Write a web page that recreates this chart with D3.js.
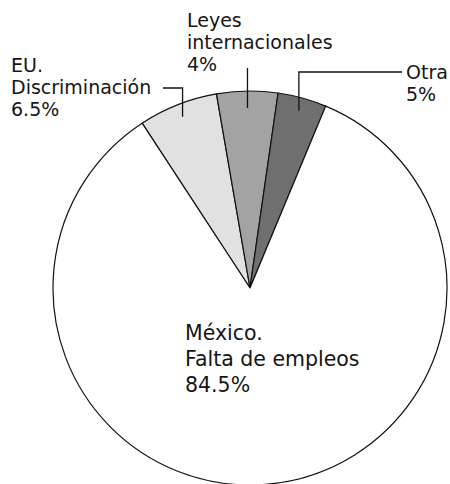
<!DOCTYPE html>
<html>
<head>
<meta charset="utf-8">
<script src="https://cdn.jsdelivr.net/npm/d3@7"></script>
<style>
  html, body { margin: 0; padding: 0; background: #fff; }
  svg { display: block; }
  text { font-family: "DejaVu Sans", "Open Sans", sans-serif; fill: #151515; }
</style>
</head>
<body>
<svg id="chart" width="450" height="484"></svg>
<script>
// Categories (clockwise from the left edge of the light wedge)
const categories = ["EU. Discriminación", "Leyes internacionales", "Otra", "México. Falta de empleos"];
// Wedge sizes as drawn in the picture (percent of circle)
const shares = [6.5, 5, 4, 84.5];
// Percent labels as printed on the chart
const percentLabels = ["6.5%", "4%", "5%", "84.5%"];
// Label lines
const labelLines = [["EU.", "Discriminación", "6.5%"], ["Leyes", "internacionales", "4%"], ["Otra", "5%"], ["México.", "Falta de empleos", "84.5%"]];
const fills = ["#e1e1e1", "#a3a3a3", "#6f6f6f", "#ffffff"];

const svg = d3.select("#chart");
const cx = 250, cy = 288, R = 197;
const startDeg = -33.2;
const toRad = d => d * Math.PI / 180;

const pie = d3.pie().sort(null).value(d => d)
  .startAngle(toRad(startDeg)).endAngle(toRad(startDeg) + 2 * Math.PI);
const arcs = pie(shares);
const arc = d3.arc().innerRadius(0).outerRadius(R);

const g = svg.append("g").attr("transform", `translate(${cx},${cy})`);
g.selectAll("path").data(arcs).join("path")
  .attr("d", arc)
  .attr("fill", (d, i) => fills[i])
  .attr("stroke", "#111")
  .attr("stroke-width", 1.2)
  .attr("stroke-linejoin", "round");

// leader anchors at mid-angle of each small wedge
const anchorR = [184, 180, 184];
function anchor(i) {
  const a = (arcs[i].startAngle + arcs[i].endAngle) / 2;
  return [cx + anchorR[i] * Math.sin(a), cy - anchorR[i] * Math.cos(a)];
}
const lineStyle = sel => sel.attr("fill", "none").attr("stroke", "#111").attr("stroke-width", 1.3);

// EU leader
{
  const [x, y] = anchor(0);
  svg.append("path").call(lineStyle).attr("d", `M${x},${y}V88H163`);
}
// Leyes leader
{
  const [x, y] = anchor(1);
  svg.append("path").call(lineStyle).attr("d", `M${x},${y}V68`);
}
// Otra leader
{
  const [x, y] = anchor(2);
  svg.append("path").call(lineStyle).attr("d", `M${x},${y}V72H402`);
}

function block(lines, x, y0, lh, fs) {
  const t = svg.append("text").attr("x", x).attr("y", y0).attr("font-size", fs);
  lines.forEach((s, i) => t.append("tspan").attr("x", x).attr("y", y0 + i * lh).text(s));
}
block(labelLines[0], 11, 72, 22, 19);
block(labelLines[1], 187, 27, 22, 19);
block(labelLines[2], 406, 79, 22, 19);
block(labelLines[3], 185, 340, 26, 20.5);
</script>
</body>
</html>
